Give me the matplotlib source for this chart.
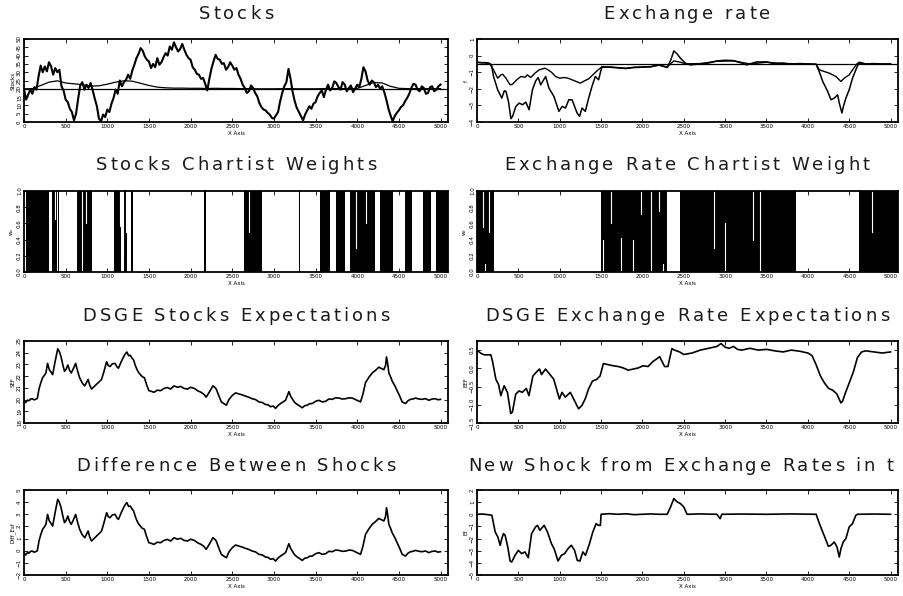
import numpy as np
import matplotlib
matplotlib.use('Agg')
import matplotlib.pyplot as plt
from matplotlib.font_manager import FontProperties, findfont
from matplotlib.ft2font import FT2Font

plt.rcParams['font.family'] = ['DejaVu Sans']

# ---------------- dados ----------------
# Stocks (passo de 25)
t_stocks = np.arange(0, 5001, 25)
stocks = [19.6, 13.5, 16.5, 19.5, 17.0, 21.0, 19.5, 27.5, 34.0, 30.0,
          33.5, 30.5, 36.0, 33.5, 28.5, 32.5, 30.0, 31.5, 21.5, 19.0,
          13.5, 12.0, 8.0, 6.0, 1.0, 5.0, 14.0, 22.0, 24.0, 19.5,
          22.5, 20.5, 23.5, 19.0, 14.0, 9.5, 2.0, 0.5, 4.5, 3.0,
          7.5, 6.0, 11.0, 14.5, 19.5, 17.0, 25.0, 21.5, 24.0, 25.5,
          28.5, 26.0, 31.0, 34.5, 38.5, 41.0, 44.5, 43.0, 39.5, 37.5,
          36.5, 32.5, 35.0, 33.0, 38.5, 34.5, 36.0, 39.0, 41.5, 40.0,
          45.5, 43.5, 48.0, 45.0, 42.5, 44.0, 47.0, 43.5, 40.5, 38.5,
          37.5, 33.0, 31.5, 29.0, 28.5, 26.0, 26.5, 23.0, 19.0, 26.0,
          32.0, 36.5, 40.5, 38.0, 37.5, 35.0, 35.5, 31.5, 33.0, 36.0,
          34.0, 31.5, 32.5, 28.5, 26.0, 22.5, 20.5, 17.5, 18.5, 22.0,
          20.5, 17.5, 15.5, 11.5, 9.0, 7.5, 7.0, 5.5, 4.5, 2.5,
          2.0, 4.0, 6.0, 12.5, 17.5, 21.5, 24.0, 32.0, 26.0, 18.0,
          12.5, 8.5, 6.0, 3.5, 1.0, 4.5, 7.0, 9.5, 8.0, 11.0,
          12.0, 15.5, 17.5, 19.0, 15.0, 19.5, 22.5, 19.0, 20.5, 24.5,
          23.5, 21.0, 19.5, 24.0, 22.5, 18.5, 20.5, 22.0, 18.0, 20.0,
          22.5, 21.0, 26.0, 33.0, 30.5, 25.0, 22.5, 25.0, 24.0, 21.0,
          22.5, 20.0, 21.5, 18.0, 13.5, 8.0, 4.0, 0.5, 3.5, 5.5,
          7.0, 9.0, 10.0, 12.5, 14.5, 17.0, 20.5, 23.0, 22.5, 19.5,
          18.5, 21.5, 20.5, 17.0, 17.5, 21.0, 21.5, 18.5, 19.5, 21.5,
          22.5]
t_stocks_exp = np.arange(0, 5001, 100)
stocks_exp = [20.0, 20.1, 22.0, 24.0, 24.8, 23.5, 23.0, 22.5, 21.6, 21.8,
              22.8, 24.0, 24.8, 24.6, 23.3, 22.0, 21.0, 20.6, 20.4, 20.4,
              20.3, 20.3, 20.2, 20.3, 20.2, 20.2, 20.1, 20.1, 20.0, 20.0,
              20.0, 20.1, 20.1, 20.0, 20.0, 20.0, 20.1, 20.1, 20.1, 20.1,
              20.2, 22.0, 23.8, 23.5, 21.5, 20.3, 20.1, 20.1, 20.1, 20.0,
              20.1]
stocks_fund = 20.0

# Exchange rate
t_exch = [0, 50, 100, 150, 175, 200, 250, 300, 330, 350, 380, 410, 430, 470, 510,
          550, 590, 630, 670, 710, 740, 770, 830, 870, 930, 990, 1030, 1070, 1110,
          1150, 1210, 1240, 1270, 1310, 1350, 1390, 1430, 1470, 1490, 1510, 1600,
          1700, 1800, 1900, 2000, 2100, 2200, 2300, 2340, 2380, 2420, 2460, 2520,
          2580, 2700, 2800, 2900, 3000, 3100, 3200, 3260, 3380, 3500, 3600, 3700,
          3800, 3900, 4000, 4100, 4140, 4180, 4240, 4280, 4320, 4360, 4380, 4412,
          4430, 4460, 4500, 4540, 4580, 4620, 4700, 4800, 4900, 5000]
exch = [-0.40, -0.43, -0.42, -0.47, -0.55, -1.26, -2.06, -2.56, -2.12, -2.15,
        -2.76, -3.80, -3.66, -3.06, -2.86, -2.96, -2.80, -3.26, -2.06, -1.52,
        -1.32, -1.76, -1.26, -1.96, -2.46, -3.36, -3.06, -3.16, -2.66, -2.66,
        -3.46, -3.66, -3.16, -3.36, -2.56, -1.86, -1.26, -1.46, -1.06, -0.66,
        -0.70, -0.74, -0.78, -0.72, -0.70, -0.68, -0.56, -0.72, -0.30, 0.28,
        0.10, -0.16, -0.46, -0.56, -0.50, -0.45, -0.32, -0.28, -0.30, -0.45,
        -0.56, -0.38, -0.38, -0.50, -0.45, -0.52, -0.48, -0.50, -0.52, -1.00,
        -1.56, -2.16, -2.66, -2.56, -2.36, -2.86, -3.46, -3.06, -2.56, -2.06,
        -1.36, -0.86, -0.40, -0.50, -0.48, -0.52, -0.50]
t_exch_exp = [0, 150, 200, 250, 290, 310, 350, 400, 430, 480, 530, 580, 610, 650,
              700, 750, 820, 860, 900, 950, 1000, 1050, 1100, 1150, 1200, 1250,
              1300, 1350, 1400, 1450, 1500, 1600, 1700, 1800, 1900, 2000, 2100,
              2200, 2300, 2380, 2460, 2520, 2700, 2900, 3100, 3300, 3500, 3700,
              3900, 4100, 4140, 4260, 4340, 4400, 4440, 4500, 4540, 4600, 4700,
              5000]
exch_exp = [-0.40, -0.47, -0.86, -1.36, -1.16, -1.12, -1.36, -1.76, -1.72, -1.46,
            -1.26, -1.30, -1.16, -1.32, -1.06, -0.86, -0.76, -0.86, -1.00, -1.26,
            -1.36, -1.32, -1.36, -1.46, -1.56, -1.66, -1.52, -1.40, -1.16, -0.92,
            -0.72, -0.68, -0.72, -0.76, -0.70, -0.68, -0.66, -0.58, -0.68, -0.32,
            -0.40, -0.50, -0.48, -0.34, -0.32, -0.50, -0.40, -0.47, -0.50, -0.52,
            -0.86, -1.06, -1.26, -1.56, -1.36, -1.16, -0.86, -0.46, -0.50, -0.50]
exch_fund = -0.5

# Pesos dos chartistas (intervalos em que o peso vale 1)
stocks_w_on = [(30, 300), (335, 395), (405, 418), (640, 815), (1075, 1170),
               (1200, 1235), (1290, 1305), (2160, 2180), (2640, 2860),
               (3300, 3315), (3550, 3670), (3750, 3850), (3910, 4210),
               (4270, 4430), (4570, 4660), (4790, 4880), (4950, 5090)]
stocks_w_gaps = [(370, 0.65, 1.0), (700, 0.0, 1.0), (745, 0.6, 1.0),
                 (1157, 0.57, 1.0), (1190, 0.2, 1.0), (1225, 0.5, 1.0),
                 (2700, 0.5, 1.0), (3980, 0.3, 1.0), (4100, 0.6, 1.0)]
exch_w_on = [(0, 208), (1496, 2300), (2450, 3860), (4620, 5090)]
exch_w_gaps = [(68, 0.55, 1.0), (140, 0.5, 1.0), (100, 0.0, 0.1),
               (1528, 0.0, 0.4), (1620, 0.6, 1.0), (1740, 0.0, 0.42),
               (1888, 0.0, 0.4), (1988, 0.72, 1.0), (2108, 0.0, 1.0),
               (2196, 0.75, 1.0), (2248, 0.0, 0.1), (2860, 0.3, 1.0),
               (3000, 0.0, 0.6), (3340, 0.4, 1.0), (3420, 0.0, 1.0),
               (4780, 0.5, 1.0)]

# Diferenca entre choques / expectativas DSGE
t_shock = [0, 20, 40, 60, 80, 100, 120, 140, 160, 180, 200, 223, 243, 263, 283,
           304, 324, 344, 375, 405, 425, 445, 465, 486, 506, 526, 547, 567, 590,
           620, 645, 668, 700, 729, 750, 770, 790, 810, 840, 871, 900, 931, 960,
           992, 1012, 1033, 1060, 1094, 1115, 1134, 1165, 1195, 1215, 1235, 1255,
           1276, 1296, 1316, 1337, 1357, 1377, 1397, 1420, 1446, 1470, 1499, 1530,
           1559, 1600, 1640, 1680, 1721, 1760, 1802, 1840, 1883, 1920, 1964, 2000,
           2045, 2085, 2126, 2160, 2187, 2230, 2268, 2290, 2308, 2340, 2369, 2400,
           2430, 2460, 2500, 2540, 2580, 2620, 2660, 2700, 2740, 2780, 2820, 2860,
           2900, 2930, 2960, 2990, 3020, 3050, 3080, 3110, 3140, 3160, 3180, 3200,
           3220, 3250, 3280, 3310, 3340, 3370, 3400, 3430, 3460, 3500, 3540, 3580,
           3620, 3660, 3700, 3740, 3780, 3820, 3860, 3900, 3940, 3980, 4040, 4070,
           4100, 4140, 4180, 4220, 4260, 4290, 4320, 4340, 4352, 4365, 4380, 4400,
           4420, 4450, 4480, 4510, 4540, 4580, 4610, 4640, 4670, 4700, 4740, 4780,
           4820, 4860, 4900, 4940, 4970, 5000]
diff_shock = [-0.16, -0.36, -0.15, -0.20, -0.05, -0.03, -0.12, -0.08, 0.00, 0.80,
              1.30, 1.76, 1.95, 2.17, 2.99, 2.45, 2.25, 2.03, 3.20, 4.23,
              4.00, 3.54, 2.90, 2.31, 2.50, 2.86, 2.40, 2.17, 2.50, 2.99,
              2.30, 1.76, 1.30, 1.07, 1.35, 1.62, 1.10, 0.80, 1.00, 1.21,
              1.40, 1.62, 2.30, 3.13, 2.80, 2.72, 2.95, 2.99, 2.70, 2.58,
              3.10, 3.54, 3.80, 3.96, 3.65, 3.68, 3.45, 3.27, 2.80, 2.45,
              2.20, 2.03, 1.85, 1.76, 1.20, 0.66, 0.60, 0.52, 0.70, 0.66,
              0.85, 0.93, 0.80, 1.07, 0.95, 1.02, 0.85, 0.80, 0.95, 0.85,
              0.65, 0.52, 0.35, 0.11, 0.60, 1.07, 0.95, 0.80, 0.20, -0.30,
              -0.45, -0.58, -0.10, 0.25, 0.47, 0.38, 0.30, 0.19, 0.10, -0.03,
              -0.10, -0.30, -0.35, -0.52, -0.55, -0.71, -0.65, -0.85, -0.60, -0.44,
              -0.30, -0.16, 0.20, 0.58, 0.20, -0.03, -0.35, -0.52, -0.65, -0.80,
              -0.62, -0.58, -0.45, -0.44, -0.25, -0.16, -0.30, -0.25, -0.05, -0.08,
              0.05, 0.03, -0.05, -0.03, 0.05, 0.03, -0.10, -0.30, 0.40, 1.35,
              1.80, 2.17, 2.40, 2.66, 2.55, 2.45, 2.80, 3.54, 3.00, 2.17,
              1.85, 1.48, 1.10, 0.66, 0.20, -0.30, -0.44, -0.20, -0.08, -0.05,
              0.03, -0.05, -0.08, -0.02, -0.16, -0.05, -0.03, -0.12, -0.08]
dsge_stocks = [19.94, 19.74, 19.95, 19.90, 20.05, 20.07, 19.98, 20.02, 20.10, 20.90,
               21.40, 21.86, 22.05, 22.27, 23.09, 22.55, 22.35, 22.13, 23.30, 24.33,
               24.10, 23.64, 23.00, 22.41, 22.60, 22.96, 22.50, 22.27, 22.60, 23.09,
               22.40, 21.86, 21.40, 21.17, 21.45, 21.72, 21.20, 20.90, 21.10, 21.31,
               21.50, 21.72, 22.40, 23.23, 22.90, 22.82, 23.05, 23.09, 22.80, 22.68,
               23.20, 23.64, 23.90, 24.06, 23.75, 23.78, 23.55, 23.37, 22.90, 22.55,
               22.30, 22.13, 21.95, 21.86, 21.30, 20.76, 20.70, 20.62, 20.80, 20.76,
               20.95, 21.03, 20.90, 21.17, 21.05, 21.12, 20.95, 20.90, 21.05, 20.95,
               20.75, 20.62, 20.45, 20.21, 20.70, 21.17, 21.05, 20.90, 20.30, 19.80,
               19.65, 19.52, 20.00, 20.35, 20.57, 20.48, 20.40, 20.29, 20.20, 20.07,
               20.00, 19.80, 19.75, 19.58, 19.55, 19.39, 19.45, 19.25, 19.50, 19.66,
               19.80, 19.94, 20.30, 20.68, 20.30, 20.07, 19.75, 19.58, 19.45, 19.30,
               19.48, 19.52, 19.65, 19.66, 19.85, 19.94, 19.80, 19.85, 20.05, 20.02,
               20.15, 20.13, 20.05, 20.07, 20.15, 20.13, 20.00, 19.80, 20.50, 21.45,
               21.90, 22.27, 22.50, 22.76, 22.65, 22.55, 22.90, 23.64, 23.10, 22.27,
               21.95, 21.58, 21.20, 20.76, 20.30, 19.80, 19.66, 19.90, 20.02, 20.05,
               20.13, 20.05, 20.02, 20.08, 19.94, 20.05, 20.07, 19.98, 20.02]

t_dsge_exch = [0, 20, 48, 88, 128, 168, 188, 228, 260, 288, 328, 368, 408, 428, 468,
               508, 548, 596, 628, 676, 728, 756, 780, 828, 868, 928, 996, 1028, 1068,
               1128, 1168, 1228, 1268, 1308, 1348, 1396, 1448, 1488, 1528, 1588, 1648,
               1708, 1768, 1828, 1888, 1948, 2008, 2068, 2128, 2168, 2208, 2268, 2308,
               2356, 2388, 2450, 2500, 2600, 2700, 2800, 2900, 2950, 3000, 3050, 3100,
               3150, 3200, 3300, 3400, 3500, 3600, 3700, 3800, 3900, 4000, 4050, 4100,
               4150, 4200, 4250, 4300, 4350, 4400, 4420, 4450, 4500, 4550, 4600, 4650,
               4700, 4800, 4900, 5000]
dsge_exch = [0.48, 0.46, 0.41, 0.37, 0.37, 0.37, 0.19, -0.30, -0.44, -0.75,
             -0.48, -0.66, -1.24, -1.20, -0.71, -0.62, -0.66, -0.55, -0.75, -0.21,
             -0.08, -0.02, -0.17, -0.02, -0.13, -0.30, -0.84, -0.66, -0.79, -0.66,
             -0.84, -1.11, -1.02, -0.84, -0.57, -0.35, -0.30, -0.21, 0.13, 0.10,
             0.07, 0.05, 0.01, -0.05, -0.02, 0.01, 0.07, 0.05, 0.19, 0.25,
             0.32, 0.05, 0.05, 0.54, 0.50, 0.45, 0.38, 0.42, 0.50, 0.55,
             0.60, 0.68, 0.58, 0.55, 0.60, 0.52, 0.50, 0.55, 0.50, 0.52,
             0.48, 0.45, 0.50, 0.47, 0.42, 0.35, 0.10, -0.20, -0.40, -0.55,
             -0.60, -0.70, -0.95, -0.90, -0.70, -0.40, -0.10, 0.30, 0.45, 0.48,
             0.45, 0.42, 0.45]

t_new_shock = [0, 60, 120, 180, 200, 220, 252, 280, 300, 320, 340, 372, 400, 420,
               460, 500, 540, 580, 620, 660, 708, 732, 760, 812, 852, 900, 932, 980,
               1020, 1060, 1100, 1140, 1180, 1212, 1244, 1280, 1312, 1360, 1400, 1440,
               1468, 1492, 1500, 1600, 1700, 1800, 1900, 2000, 2100, 2200, 2300, 2340,
               2380, 2420, 2460, 2500, 2540, 2700, 2900, 2940, 2960, 3200, 3500, 3800,
               4100, 4140, 4180, 4220, 4248, 4280, 4320, 4352, 4380, 4400, 4428, 4460,
               4500, 4540, 4580, 4600, 4800, 5000]
new_shock = [0.0, 0.02, -0.02, -0.08, -0.77, -1.46, -1.87, -2.55, -2.00, -1.59,
             -1.73, -2.69, -3.85, -3.93, -3.38, -2.97, -3.24, -3.10, -3.57, -1.59,
             -1.04, -0.91, -1.32, -0.91, -1.46, -2.42, -2.83, -3.85, -3.38, -3.24,
             -2.83, -2.55, -2.97, -3.79, -3.85, -3.10, -3.38, -2.42, -1.46, -0.77,
             -0.91, -0.91, 0.0, 0.05, 0.0, 0.04, -0.03, 0.0, 0.03, 0.0,
             0.0, 0.60, 1.29, 1.02, 0.88, 0.60, 0.0, 0.03, 0.0, -0.36,
             0.0, 0.02, 0.0, 0.03, 0.0, -0.77, -1.46, -2.14, -2.64, -2.55,
             -2.28, -2.69, -3.52, -2.83, -2.28, -2.00, -1.04, -0.77, -0.08, 0.0,
             0.02, 0.0]

x_ticks = [0, 500, 1000, 1500, 2000, 2500, 3000, 3500, 4000, 4500, 5000]

# ---------------- figura ----------------
W, H = 904, 596
fig = plt.figure(figsize=(W / 100, H / 100), dpi=100)

# titulos com letras espacadas (como a fonte vetorial do original)
fonte_titulo = FontProperties(family='DejaVu Sans', size=13)
ft = FT2Font(findfont(fonte_titulo))
ft.set_size(13, 100)


def titulo(x, y_base, texto, ha='center', espaco=3.0):
    larg = [ft.load_char(ord(c)).linearHoriAdvance / 65536 for c in texto]
    total = sum(larg) + espaco * (len(texto) - 1)
    x0 = x - total / 2 if ha == 'center' else x
    for c, w in zip(texto, larg):
        if c != ' ':
            fig.text(x0 / W, 1 - y_base / H, c, fontproperties=fonte_titulo,
                     ha='left', va='baseline', color='#1a1a1a')
        x0 += w + espaco


def eixo(x0, y0, x1, y1):
    return fig.add_axes([x0 / W, 1 - y1 / H, (x1 - x0) / W, (y1 - y0) / H])


def estilo(ax, ylim, yticks, ylabel):
    ax.set_xlim(0, 5090)
    ax.set_ylim(*ylim)
    ax.set_xticks(x_ticks)
    ax.set_yticks(yticks)
    ax.tick_params(direction='in', length=3, width=0.6, top=True, right=True,
                   labelsize=4, pad=1.5, colors='black')
    for lab in ax.get_yticklabels():
        lab.set_rotation(90)
        lab.set_va('center')
    for s in ax.spines.values():
        s.set_linewidth(1.3)
    ax.set_xlabel('X Axis', fontsize=4, labelpad=1.5)
    ax.set_ylabel(ylabel, fontsize=4, labelpad=1)


linhas = [(39, 122), (191, 272), (341, 423), (490, 575)]
base_titulo = [19, 170, 321, 471]
esq = (24, 448)
dir_ = (477, 898)
cx_esq = 236
cx_dir = 687

# Stocks
ax = eixo(esq[0], linhas[0][0], esq[1], linhas[0][1])
ax.axhline(stocks_fund, color='black', lw=0.9)
ax.plot(t_stocks_exp, stocks_exp, color='black', lw=0.9)
ax.plot(t_stocks, stocks, color='black', lw=1.5)
estilo(ax, (0, 50), range(0, 51, 5), 'Stocks')
titulo(cx_esq, base_titulo[0], 'Stocks')

# Exchange rate
ax = eixo(dir_[0], linhas[0][0], dir_[1], linhas[0][1])
ax.axhline(exch_fund, color='black', lw=0.9)
ax.plot(t_exch_exp, exch_exp, color='black', lw=1.0)
ax.plot(t_exch, exch, color='black', lw=1.1)
estilo(ax, (-4, 1), [-4, -3, -2, -1, 0, 1], 'f')
titulo(cx_dir, base_titulo[0], 'Exchange rate')

# Stocks chartist weights
ax = eixo(esq[0], linhas[1][0], esq[1], linhas[1][1])
for a, b in stocks_w_on:
    ax.axvspan(a, b, color='black', lw=0)
for x, y0, y1 in stocks_w_gaps:
    ax.axvline(x, y0, y1, color='white', lw=0.8)
estilo(ax, (0, 1), [0, 0.2, 0.4, 0.6, 0.8, 1.0], 'w$_s$')
ax.set_yticklabels(['0.0', '0.2', '0.4', '0.6', '0.8', '1.0'], rotation=90, va='center')
titulo(cx_esq, base_titulo[1], 'Stocks Chartist Weights')

# Exchange rate chartist weight
ax = eixo(dir_[0], linhas[1][0], dir_[1], linhas[1][1])
for a, b in exch_w_on:
    ax.axvspan(a, b, color='black', lw=0)
for x, y0, y1 in exch_w_gaps:
    ax.axvline(x, y0, y1, color='white', lw=0.8)
estilo(ax, (0, 1), [0, 0.2, 0.4, 0.6, 0.8, 1.0], 'w$_f$')
ax.set_yticklabels(['0.0', '0.2', '0.4', '0.6', '0.8', '1.0'], rotation=90, va='center')
titulo(cx_dir, base_titulo[1], 'Exchange Rate Chartist Weight')

# DSGE Stocks
ax = eixo(esq[0], linhas[2][0], esq[1], linhas[2][1])
ax.plot(t_shock, dsge_stocks, color='black', lw=1.2)
estilo(ax, (18, 25), range(18, 26), 'SEF')
titulo(cx_esq, base_titulo[2], 'DSGE Stocks Expectations')

# DSGE Exchange
ax = eixo(dir_[0], linhas[2][0], dir_[1], linhas[2][1])
ax.plot(t_dsge_exch, dsge_exch, color='black', lw=1.2)
estilo(ax, (-1.5, 0.75), [-1.5, -1.0, -0.5, 0.0, 0.5], 'EEF')
titulo(cx_dir, base_titulo[2], 'DSGE Exchange Rate Expectations')

# Difference between shocks
ax = eixo(esq[0], linhas[3][0], esq[1], linhas[3][1])
ax.plot(t_shock, diff_shock, color='black', lw=1.2)
estilo(ax, (-2, 5), range(-2, 6), 'Diff_Esf')
titulo(cx_esq, base_titulo[3], 'Difference Between Shocks')

# New shock
ax = eixo(dir_[0], linhas[3][0], dir_[1], linhas[3][1])
ax.plot(t_new_shock, new_shock, color='black', lw=1.2)
estilo(ax, (-5, 2), range(-5, 3), 'Ef')
titulo(468, base_titulo[3], 'New Shock from Exchange Rates in t', ha='left', espaco=2.8)

fig.savefig('out.png', dpi=100, facecolor='white')
